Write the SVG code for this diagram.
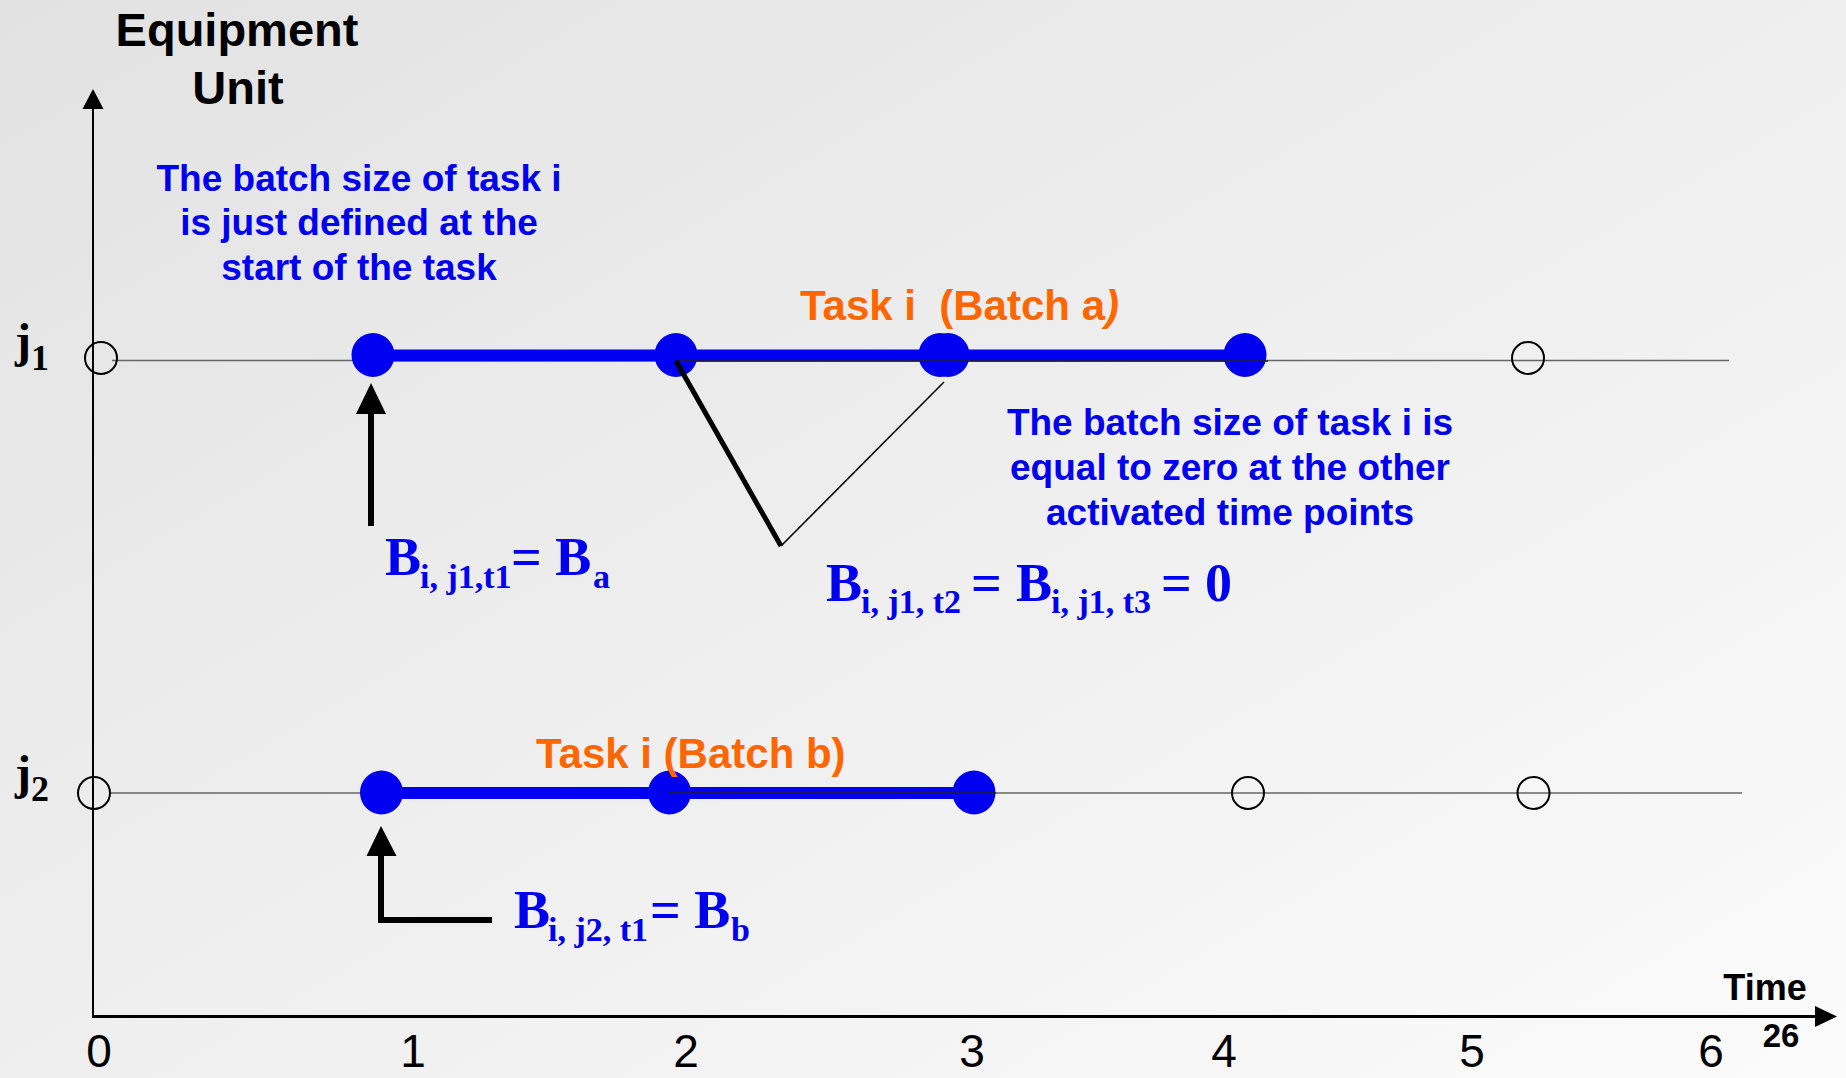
<svg xmlns="http://www.w3.org/2000/svg" width="1846" height="1078" viewBox="0 0 1846 1078">
<style>
.sans{font-family:"Liberation Sans",Arial,sans-serif;font-weight:bold}
.serif{font-family:"Liberation Serif","Times New Roman",serif;font-weight:bold}
.blue{fill:#0000F0}
.orange{fill:#FF6600}
.para{font-size:37px;text-anchor:middle}
.f{font-size:54px}
.sub{font-size:34px}
.grid{stroke:#666;stroke-width:1.6;fill:none}
.open{fill:none;stroke:#000;stroke-width:2}
.dot{fill:#0000F0}
.bar{stroke:#0000F0;stroke-width:12}
.tick{font-family:"Liberation Sans",Arial,sans-serif;font-size:46px;text-anchor:middle;fill:#000}
</style>
<defs>
<linearGradient id="bg" x1="0" y1="0" x2="1" y2="1">
<stop offset="0" stop-color="#e2e2e2"/>
<stop offset="1" stop-color="#fbfbfb"/>
</linearGradient>
</defs>
<rect width="1846" height="1078" fill="url(#bg)"/>

<g id="axes">
<line x1="93" y1="105" x2="93" y2="1017" stroke="#000" stroke-width="2"/>
<polygon points="93,89 82.5,109 103.5,109" fill="#000"/>
<line x1="92" y1="1016.5" x2="1818" y2="1016.5" stroke="#000" stroke-width="3"/>
<polygon points="1837,1016.5 1815,1006 1815,1027" fill="#000"/>
<text class="sans" x="237" y="46" font-size="47" text-anchor="middle" fill="#000">Equipment</text>
<text class="sans" x="238" y="104" font-size="47" text-anchor="middle" fill="#000">Unit</text>
<text class="sans" x="1765" y="1000" font-size="36" text-anchor="middle" fill="#000">Time</text>
<text class="sans" x="1781" y="1047" font-size="33" text-anchor="middle" fill="#000">26</text>
<text class="tick" x="99" y="1067">0</text>
<text class="tick" x="413" y="1067">1</text>
<text class="tick" x="686" y="1067">2</text>
<text class="tick" x="972" y="1067">3</text>
<text class="tick" x="1224" y="1067">4</text>
<text class="tick" x="1472" y="1067">5</text>
<text class="tick" x="1711" y="1067">6</text>
</g>

<g id="row-j1">
<text class="serif" x="15" y="357" font-size="48" fill="#000">j<tspan font-size="36" dy="13">1</tspan></text>
<line class="grid" x1="112" y1="360.5" x2="1729" y2="360.5"/>
<line class="bar" x1="373" y1="355.5" x2="1245" y2="355.5"/>
<ellipse class="open" cx="101" cy="358" rx="16" ry="16"/>
<ellipse class="dot" cx="373" cy="355" rx="21.5" ry="22"/>
<ellipse class="dot" cx="676" cy="355" rx="21.5" ry="22"/>
<ellipse class="dot" cx="940" cy="355" rx="21.5" ry="22"/>
<ellipse class="dot" cx="948" cy="355" rx="21.5" ry="22"/>
<ellipse class="dot" cx="1245" cy="355" rx="21.5" ry="22"/>
<line x1="676" y1="361" x2="1268" y2="361" stroke="#222" stroke-width="1.6"/>
<ellipse class="open" cx="1528" cy="358" rx="16" ry="16"/>
<text class="sans orange" x="800" y="320" font-size="42" xml:space="preserve">Task i  (Batch a<tspan font-style="italic">)</tspan></text>
</g>

<g id="row-j2">
<text class="serif" x="15" y="789" font-size="48" fill="#000">j<tspan font-size="36" dy="12">2</tspan></text>
<line class="grid" x1="110" y1="793" x2="1742" y2="793"/>
<line class="bar" x1="381" y1="793" x2="974" y2="793"/>
<ellipse class="open" cx="94" cy="793" rx="16" ry="16"/>
<ellipse class="dot" cx="381.5" cy="792.5" rx="21.5" ry="22"/>
<ellipse class="dot" cx="669.5" cy="792.5" rx="21.5" ry="22"/>
<ellipse class="dot" cx="974" cy="792.5" rx="21.5" ry="22"/>
<line x1="669" y1="793" x2="996" y2="793" stroke="#222" stroke-width="1.6"/>
<ellipse class="open" cx="1248" cy="793" rx="16" ry="16"/>
<ellipse class="open" cx="1533.5" cy="793" rx="16" ry="16"/>
<text class="sans orange" x="536" y="768" font-size="42">Task i (Batch b)</text>
</g>

<g id="note-start">
<text class="sans blue para" x="359" y="191">The batch size of task i</text>
<text class="sans blue para" x="359" y="235">is just defined at the</text>
<text class="sans blue para" x="359" y="280">start of the task</text>
</g>

<g id="note-zero">
<text class="sans blue para" x="1230" y="435">The batch size of task i is</text>
<text class="sans blue para" x="1230" y="480">equal to zero at the other</text>
<text class="sans blue para" x="1230" y="525">activated time points</text>
</g>

<g id="eq-a" class="serif blue">
<text class="f" x="385" y="575">B</text>
<text class="sub" x="420" y="588">i, j1,t1</text>
<text class="f" x="511" y="575">= B</text>
<text class="sub" x="593" y="588">a</text>
</g>

<g id="eq-zero" class="serif blue">
<text class="f" x="826" y="601">B</text>
<text class="sub" x="861" y="613">i, j1, t2</text>
<text class="f" x="971" y="601">=</text>
<text class="f" x="1016" y="601">B</text>
<text class="sub" x="1051" y="613">i, j1, t3</text>
<text class="f" x="1161" y="601">=</text>
<text class="f" x="1205" y="601">0</text>
</g>

<g id="eq-b" class="serif blue">
<text class="f" x="514" y="928">B</text>
<text class="sub" x="548" y="941">i, j2, t1</text>
<text class="f" x="650" y="928">= B</text>
<text class="sub" x="731" y="941">b</text>
</g>

<g id="connectors">
<line x1="371" y1="526" x2="371" y2="410" stroke="#000" stroke-width="6"/>
<polygon points="371,383 356,414 386,414" fill="#000"/>
<polyline points="381,920 381,852" fill="none" stroke="#000" stroke-width="6"/>
<line x1="378" y1="920" x2="492" y2="920" stroke="#000" stroke-width="6"/>
<polygon points="381,826 366.5,856 396.5,856" fill="#000"/>
<line x1="676" y1="361" x2="781" y2="546" stroke="#000" stroke-width="5"/>
<line x1="781" y1="546" x2="944" y2="382" stroke="#000" stroke-width="1.6"/>
</g>
</svg>
